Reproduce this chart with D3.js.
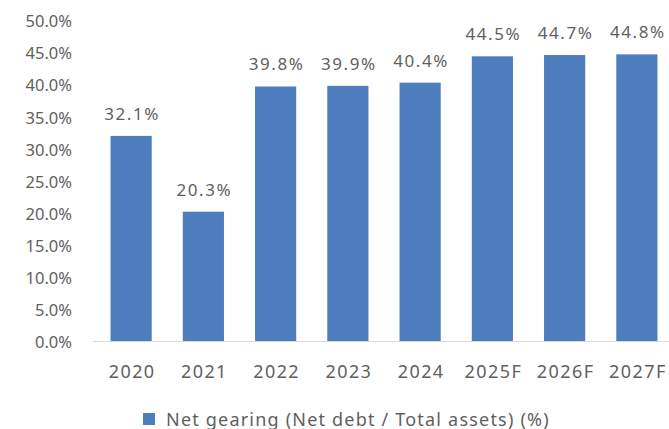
<!DOCTYPE html>
<html>
<head>
<meta charset="utf-8">
<script src="https://cdn.jsdelivr.net/npm/d3@7"></script>
<style>
  html, body { margin: 0; padding: 0; background: #fff; }
  svg text { font-family: "Noto Sans", "Open Sans", sans-serif; fill: #5f5f5f; }
</style>
</head>
<body>
<svg id="chart" width="669" height="429"></svg>
<script>
// Net gearing by year, percent
const years = ["2020", "2021", "2022", "2023", "2024", "2025F", "2026F", "2027F"];
const gearing = [32.1, 20.3, 39.8, 39.9, 40.4, 44.5, 44.7, 44.8];
const yTicks = [0, 5, 10, 15, 20, 25, 30, 35, 40, 45, 50];
const legendLabel = "Net gearing (Net debt / Total assets) (%)";

const svg = d3.select("#chart");
const plot = { left: 95, right: 673, top: 21, bottom: 342 };
const barColor = "#4f7ebf";

const x = d3.scaleBand().domain(years).range([plot.left, plot.right]).paddingInner(0.43).paddingOuter(0.215);
const y = d3.scaleLinear().domain([0, 50]).range([plot.bottom, plot.top]);

// y axis labels
const yAxis = d3.axisLeft(y).tickValues(yTicks).tickFormat(d => d.toFixed(1) + "%").tickSize(0).tickPadding(0);
const yg = svg.append("g").attr("transform", "translate(72,0)").call(yAxis);
yg.select(".domain").remove();
yg.selectAll("text").attr("font-size", 16.5).attr("dy", "0.35em");

// bars
svg.append("g").selectAll("rect").data(years).join("rect")
  .attr("x", d => x(d))
  .attr("width", x.bandwidth())
  .attr("y", (d, i) => y(gearing[i]))
  .attr("height", (d, i) => y(0) - y(gearing[i]))
  .attr("fill", barColor);

// baseline
svg.append("line")
  .attr("x1", 93).attr("x2", 669)
  .attr("y1", y(0) - 0.5).attr("y2", y(0) - 0.5)
  .attr("stroke", "#d9d9d9").attr("stroke-width", 1);

// value labels
svg.append("g").selectAll("text").data(years).join("text")
  .attr("x", d => x(d) + x.bandwidth() / 2 + 1)
  .attr("y", (d, i) => y(gearing[i]) - 16)
  .attr("text-anchor", "middle")
  .attr("font-size", 17)
  .attr("letter-spacing", 1.6)
  .text((d, i) => gearing[i].toFixed(1) + "%");

// x axis labels
const xAxis = d3.axisBottom(x).tickSize(0).tickPadding(0);
const xg = svg.append("g").attr("transform", "translate(1," + 378 + ")").call(xAxis);
xg.select(".domain").remove();
xg.selectAll("text").attr("font-size", 18).attr("letter-spacing", 1.4).attr("dy", "0");

// legend
const lg = svg.append("g").attr("transform", "translate(143,413)");
lg.append("rect").attr("x", 0).attr("y", 0).attr("width", 12).attr("height", 12).attr("fill", barColor);
lg.append("text").attr("x", 23).attr("y", 12.5).attr("font-size", 18).attr("letter-spacing", 1.2).text(legendLabel);
</script>
</body>
</html>
